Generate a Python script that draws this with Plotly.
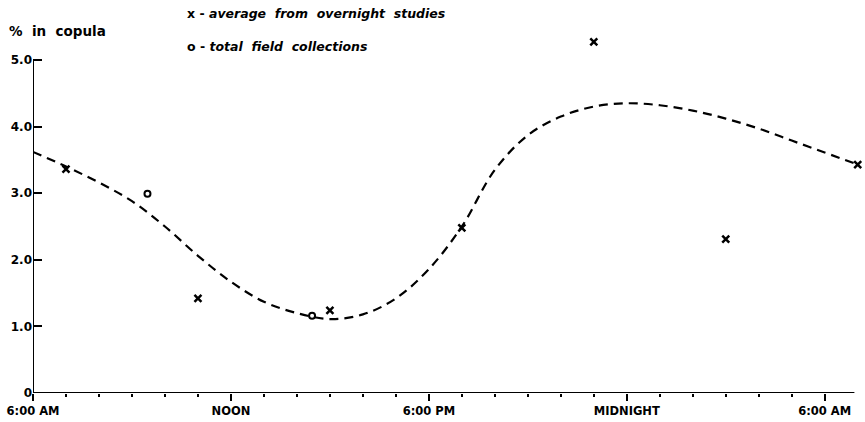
import plotly.graph_objects as go

# hours after 6:00 AM
avg_hours = [1.0, 5.0, 9.0, 13.0, 17.0, 21.0, 25.0]
avg_pct = [3.36, 1.42, 1.24, 2.48, 5.27, 2.31, 3.43]

field_hours = [3.47, 8.46]
field_pct = [2.99, 1.16]

curve_hours = list(range(0, 26))
curve_pct = [3.62, 3.40, 3.16, 2.88, 2.50, 2.06, 1.67, 1.37, 1.20, 1.11, 1.18, 1.42, 1.86,
             2.50, 3.35, 3.87, 4.15, 4.30, 4.35, 4.32, 4.24, 4.12, 3.97, 3.79, 3.61, 3.43]

x_tick_vals = [0, 6, 12, 18, 24]
x_tick_text = ["6:00 AM", "NOON", "6:00 PM", "MIDNIGHT", "6:00 AM"]
y_tick_vals = [0, 1, 2, 3, 4, 5]
y_tick_text = ["0", "1.0", "2.0", "3.0", "4.0", "5.0"]
x_axis_end = 24.9
y_axis_top = 5

FONT = "DejaVu Sans"
W, H = 865, 422
ML, MR, MT, MB = 33, 4, 30, 29
PW, PH = W - ML - MR, H - MT - MB


def px(xp):
    return (xp - ML) / PW


def py(yp):
    return (H - MB - yp) / PH


fig = go.Figure()
fig.add_trace(go.Scatter(
    x=curve_hours, y=curve_pct, mode="lines",
    line=dict(color="black", width=2.2, dash="9px,6px", shape="spline", smoothing=1.0),
    hoverinfo="skip",
))
fig.add_trace(go.Scatter(
    x=avg_hours, y=avg_pct, mode="markers",
    marker=dict(symbol="x-thin", size=7, line=dict(color="black", width=2.5), color="black"),
    cliponaxis=False,
))
fig.add_trace(go.Scatter(
    x=field_hours, y=field_pct, mode="markers",
    marker=dict(symbol="circle-open", size=6, line=dict(color="black", width=2), color="black"),
    cliponaxis=False,
))

# axis lines (limited to the labelled extent)
fig.add_shape(type="line", xref="x", yref="y", x0=0, x1=0, y0=0, y1=y_axis_top,
              line=dict(color="black", width=2))
fig.add_shape(type="line", xref="x", yref="y", x0=0, x1=x_axis_end, y0=0, y1=0,
              line=dict(color="black", width=2))

fig.update_layout(
    width=W, height=H,
    margin=dict(l=ML, r=MR, t=MT, b=MB),
    paper_bgcolor="white", plot_bgcolor="white",
    showlegend=False,
    font=dict(family=FONT, color="black"),
    xaxis=dict(
        range=[0, 25.1], showgrid=False, zeroline=False, showline=False,
        tickvals=x_tick_vals, ticktext=x_tick_text,
        ticks="outside", ticklen=7, tickwidth=2, tickcolor="black",
        tickfont=dict(family=FONT, size=11.5, weight="bold", color="black"),
        minor=dict(tickvals=list(range(0, 25)), ticks="outside", ticklen=3, tickwidth=1.5,
                   tickcolor="black"),
    ),
    yaxis=dict(
        range=[0, 5.45], showgrid=False, zeroline=False, showline=False,
        tickvals=y_tick_vals, ticktext=y_tick_text,
        ticks="inside", ticklen=9, tickwidth=2, tickcolor="black",
        tickfont=dict(family=FONT, size=12, weight="bold", color="black"),
    ),
)

fig.add_annotation(xref="paper", yref="paper", x=px(7), y=py(31),
                   xanchor="left", yanchor="middle", showarrow=False,
                   text="%  in  copula",
                   font=dict(family=FONT, size=13.5, weight="bold", color="black"))
fig.add_annotation(xref="paper", yref="paper", x=px(185), y=py(13),
                   xanchor="left", yanchor="middle", showarrow=False,
                   text="x - <i>average  from  overnight  studies</i>",
                   font=dict(family=FONT, size=12.5, weight="bold", color="black"))
fig.add_annotation(xref="paper", yref="paper", x=px(185), y=py(46),
                   xanchor="left", yanchor="middle", showarrow=False,
                   text="o - <i>total  field  collections</i>",
                   font=dict(family=FONT, size=12.5, weight="bold", color="black"))

fig.write_html("out.html")
